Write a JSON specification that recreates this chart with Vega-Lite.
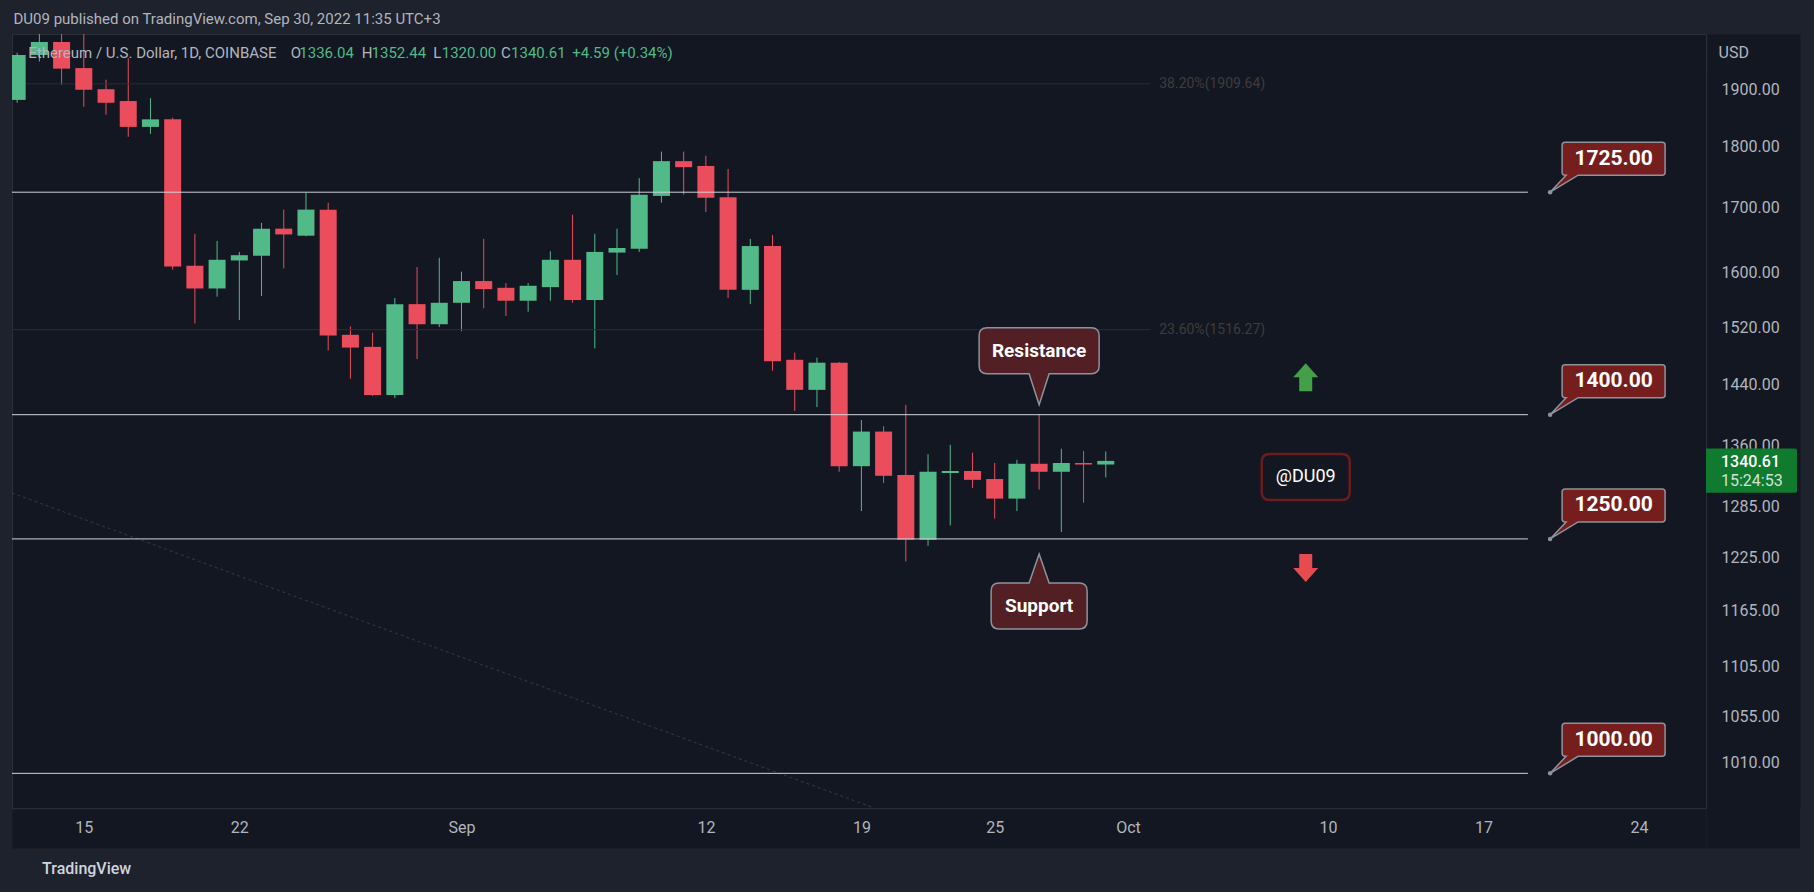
{
  "$schema": "https://vega.github.io/schema/vega-lite/v6.json",
  "width": 1694,
  "height": 774,
  "autosize": {"type": "none"},
  "padding": {"left": 12, "top": 34, "right": 108, "bottom": 84},
  "background": "#1e222d",
  "config": {
    "font": "Roboto",
    "view": {"fill": "#131722", "stroke": "#2a2e39", "strokeWidth": 1},
    "axis": {"grid": false}
  },
  "title": {
    "text": "DU09 published on TradingView.com, Sep 30, 2022 11:35 UTC+3",
    "anchor": "start",
    "frame": "group",
    "offset": 7,
    "dx": 1.5,
    "fontSize": 15,
    "fontWeight": "normal",
    "color": "#b2b5be"
  },
  "datasets": {
    "candles": [
      {"date": "2022-08-12", "open": 1881, "high": 1966, "low": 1876, "close": 1962},
      {"date": "2022-08-13", "open": 1962, "high": 2020, "low": 1950, "close": 1986},
      {"date": "2022-08-14", "open": 1986, "high": 2030, "low": 1908, "close": 1937},
      {"date": "2022-08-15", "open": 1938, "high": 2010, "low": 1869, "close": 1899},
      {"date": "2022-08-16", "open": 1900, "high": 1917, "low": 1855, "close": 1876},
      {"date": "2022-08-17", "open": 1879, "high": 1956, "low": 1817, "close": 1834},
      {"date": "2022-08-18", "open": 1834, "high": 1884, "low": 1822, "close": 1847},
      {"date": "2022-08-19", "open": 1847, "high": 1850, "low": 1604, "close": 1609},
      {"date": "2022-08-20", "open": 1610, "high": 1659, "low": 1525, "close": 1576},
      {"date": "2022-08-21", "open": 1576, "high": 1648, "low": 1564, "close": 1619},
      {"date": "2022-08-22", "open": 1618, "high": 1631, "low": 1530, "close": 1626},
      {"date": "2022-08-23", "open": 1625, "high": 1676, "low": 1565, "close": 1667},
      {"date": "2022-08-24", "open": 1667, "high": 1697, "low": 1606, "close": 1658},
      {"date": "2022-08-25", "open": 1656, "high": 1724, "low": 1655, "close": 1697},
      {"date": "2022-08-26", "open": 1697, "high": 1708, "low": 1487, "close": 1508},
      {"date": "2022-08-27", "open": 1509, "high": 1521, "low": 1448, "close": 1491},
      {"date": "2022-08-28", "open": 1492, "high": 1512, "low": 1425, "close": 1426},
      {"date": "2022-08-29", "open": 1426, "high": 1562, "low": 1422, "close": 1553},
      {"date": "2022-08-30", "open": 1553, "high": 1608, "low": 1475, "close": 1524},
      {"date": "2022-08-31", "open": 1524, "high": 1622, "low": 1520, "close": 1555},
      {"date": "2022-09-01", "open": 1555, "high": 1601, "low": 1514, "close": 1587},
      {"date": "2022-09-02", "open": 1587, "high": 1651, "low": 1547, "close": 1575},
      {"date": "2022-09-03", "open": 1577, "high": 1584, "low": 1536, "close": 1558},
      {"date": "2022-09-04", "open": 1558, "high": 1584, "low": 1542, "close": 1580},
      {"date": "2022-09-05", "open": 1578, "high": 1632, "low": 1558, "close": 1619},
      {"date": "2022-09-06", "open": 1619, "high": 1689, "low": 1555, "close": 1559},
      {"date": "2022-09-07", "open": 1559, "high": 1659, "low": 1490, "close": 1631},
      {"date": "2022-09-08", "open": 1630, "high": 1667, "low": 1596, "close": 1637},
      {"date": "2022-09-09", "open": 1636, "high": 1748, "low": 1631, "close": 1721},
      {"date": "2022-09-10", "open": 1719, "high": 1792, "low": 1708, "close": 1776},
      {"date": "2022-09-11", "open": 1776, "high": 1792, "low": 1721, "close": 1766},
      {"date": "2022-09-12", "open": 1768, "high": 1785, "low": 1693, "close": 1716},
      {"date": "2022-09-13", "open": 1717, "high": 1763, "low": 1562, "close": 1574},
      {"date": "2022-09-14", "open": 1574, "high": 1651, "low": 1553, "close": 1640},
      {"date": "2022-09-15", "open": 1640, "high": 1657, "low": 1459, "close": 1472},
      {"date": "2022-09-16", "open": 1474, "high": 1484, "low": 1405, "close": 1433},
      {"date": "2022-09-17", "open": 1433, "high": 1477, "low": 1410, "close": 1470},
      {"date": "2022-09-18", "open": 1470, "high": 1471, "low": 1327, "close": 1334},
      {"date": "2022-09-19", "open": 1334, "high": 1393, "low": 1279, "close": 1378},
      {"date": "2022-09-20", "open": 1378, "high": 1385, "low": 1313, "close": 1322},
      {"date": "2022-09-21", "open": 1323, "high": 1413, "low": 1220, "close": 1245},
      {"date": "2022-09-22", "open": 1245, "high": 1349, "low": 1238, "close": 1327},
      {"date": "2022-09-23", "open": 1325.5, "high": 1361, "low": 1262, "close": 1328},
      {"date": "2022-09-24", "open": 1328, "high": 1351, "low": 1307, "close": 1317},
      {"date": "2022-09-25", "open": 1318, "high": 1338, "low": 1270, "close": 1294},
      {"date": "2022-09-26", "open": 1294, "high": 1342, "low": 1279, "close": 1337},
      {"date": "2022-09-27", "open": 1337, "high": 1401, "low": 1305, "close": 1327},
      {"date": "2022-09-28", "open": 1327, "high": 1356, "low": 1254, "close": 1338},
      {"date": "2022-09-29", "open": 1338, "high": 1353, "low": 1289, "close": 1336.04},
      {"date": "2022-09-30", "open": 1336.04, "high": 1352.44, "low": 1320.0, "close": 1340.61}
    ],
    "levels": [
      {"pos": 1725, "label": "1725.00", "start": "2022-08-01", "end": "2022-10-19", "tag": "2022-10-20"},
      {"pos": 1400, "label": "1400.00", "start": "2022-08-01", "end": "2022-10-19", "tag": "2022-10-20"},
      {"pos": 1246, "label": "1250.00", "start": "2022-08-01", "end": "2022-10-19", "tag": "2022-10-20"},
      {"pos": 1000, "label": "1000.00", "start": "2022-08-01", "end": "2022-10-19", "tag": "2022-10-20"}
    ],
    "fib": [
      {"price": 1909.64, "label": "38.20%(1909.64)", "start": "2022-08-01", "end": "2022-10-02"},
      {"price": 1516.27, "label": "23.60%(1516.27)", "start": "2022-08-01", "end": "2022-10-02"}
    ],
    "trend": [
      {"date": "2022-08-11", "price": 1308.5},
      {"date": "2022-09-21", "price": 957.6}
    ],
    "notes": [
      {"date": "2022-09-27", "price": 1413, "label": "Resistance"},
      {"date": "2022-09-27", "price": 1228.5, "label": "Support"}
    ],
    "signs": [
      {"date": "2022-10-09", "price": 1450, "kind": "up"},
      {"date": "2022-10-09", "price": 1212.5, "kind": "down"},
      {"date": "2022-10-09", "price": 1320.6, "kind": "handle", "label": "@DU09"}
    ],
    "header": [
      {"date": "2022-08-12T12:00:00Z", "price": 1965, "text": "Ethereum / U.S. Dollar, 1D, COINBASE", "kind": "label"},
      {"date": "2022-08-24T07:28:00Z", "price": 1965, "text": "O", "kind": "label"},
      {"date": "2022-08-24T16:48:00Z", "price": 1965, "text": "1336.04", "kind": "value"},
      {"date": "2022-08-27T12:09:00Z", "price": 1965, "text": "H", "kind": "label"},
      {"date": "2022-08-27T22:52:00Z", "price": 1965, "text": "1352.44", "kind": "value"},
      {"date": "2022-08-30T17:27:00Z", "price": 1965, "text": "L", "kind": "label"},
      {"date": "2022-08-31T02:41:00Z", "price": 1965, "text": "1320.00", "kind": "value"},
      {"date": "2022-09-02T18:47:00Z", "price": 1965, "text": "C", "kind": "label"},
      {"date": "2022-09-03T05:31:00Z", "price": 1965, "text": "1340.61", "kind": "value"},
      {"date": "2022-09-05T23:34:00Z", "price": 1965, "text": "+4.59 (+0.34%)", "kind": "value"}
    ]
  },
  "resolve": {"scale": {"x": "shared", "y": "shared"}, "axis": {"x": "independent", "y": "independent"}},
  "layer": [
    {
      "data": {"values": []},
      "mark": {"type": "rule"},
      "encoding": {
        "x": {
          "field": "d",
          "type": "temporal",
          "scale": {
            "type": "utc",
            "domain": [
              {"year": 2022, "month": 8, "date": 11, "hours": 23, "minutes": 50, "utc": true},
              {"year": 2022, "month": 10, "date": 26, "hours": 19, "utc": true}
            ]
          },
          "axis": {
            "orient": "bottom",
            "labels": false,
            "ticks": false,
            "title": null,
            "offset": 20.5,
            "domainWidth": 39,
            "domainColor": "#131722",
            "zindex": 0
          }
        },
        "y": {
          "field": "v",
          "type": "quantitative",
          "scale": {"type": "log", "domain": [968, 2001], "nice": false, "zero": false},
          "axis": {
            "orient": "right",
            "labels": false,
            "ticks": false,
            "title": null,
            "offset": 47.5,
            "domainWidth": 93,
            "domainColor": "#131722",
            "zindex": 0
          }
        }
      }
    },
    {
      "data": {"values": []},
      "mark": {"type": "rule"},
      "encoding": {
        "y": {
          "field": "v",
          "type": "quantitative",
          "axis": {
            "orient": "right",
            "labels": false,
            "ticks": false,
            "title": null,
            "offset": 7,
            "translate": 40.5,
            "domainWidth": 93,
            "domainColor": "#131722",
            "zindex": 0
          }
        }
      }
    },
    {
      "layer": [
        {
          "data": {"name": "candles"},
          "mark": {"type": "rule", "clip": true, "strokeWidth": 1},
          "encoding": {
            "x": {
              "field": "date",
              "type": "temporal",
              "scale": {
                "type": "utc",
                "domain": [
                  {"year": 2022, "month": 8, "date": 11, "hours": 23, "minutes": 50, "utc": true},
                  {"year": 2022, "month": 10, "date": 26, "hours": 19, "utc": true}
                ]
              },
              "axis": {
                "orient": "bottom",
                "zindex": 1,
                "values": [
                  {"year": 2022, "month": 8, "date": 15, "utc": true},
                  {"year": 2022, "month": 8, "date": 22, "utc": true},
                  {"year": 2022, "month": 9, "date": 1, "utc": true},
                  {"year": 2022, "month": 9, "date": 12, "utc": true},
                  {"year": 2022, "month": 9, "date": 19, "utc": true},
                  {"year": 2022, "month": 9, "date": 25, "utc": true},
                  {"year": 2022, "month": 10, "date": 1, "utc": true},
                  {"year": 2022, "month": 10, "date": 10, "utc": true},
                  {"year": 2022, "month": 10, "date": 17, "utc": true},
                  {"year": 2022, "month": 10, "date": 24, "utc": true}
                ],
                "labelExpr": "utcdate(datum.value) == 1 ? utcFormat(datum.value, '%b') : utcFormat(datum.value, '%-d')",
                "title": "TradingView",
                "domain": false,
                "ticks": false,
                "tickSize": 0,
                "labelPadding": 19,
                "labelBaseline": "middle",
                "labelFontSize": 16,
                "labelColor": "#b2b5be",
                "labelFlush": false,
                "labelOverlap": false,
                "labelAngle": 0,
                "titleX": 29.6,
                "titleY": 60,
                "titleAlign": "left",
                "titleBaseline": "middle",
                "titleFontSize": 16,
                "titleFontWeight": 500,
                "titleColor": "#d1d4dc"
              }
            },
            "y": {
              "field": "low",
              "type": "quantitative",
              "scale": {"type": "log", "domain": [968, 2001], "nice": false, "zero": false},
              "axis": {
                "orient": "right",
                "zindex": 0,
                "values": [1010, 1055, 1105, 1165, 1225, 1285, 1360, 1440, 1520, 1600, 1700, 1800, 1900],
                "format": ".2f",
                "title": "USD",
                "domain": false,
                "ticks": false,
                "tickSize": 0,
                "labelAlign": "left",
                "labelPadding": 15,
                "labelBaseline": "middle",
                "labelFontSize": 16,
                "labelColor": "#b2b5be",
                "labelOverlap": false,
                "labelFlush": false,
                "titleAngle": 0,
                "titleX": 12,
                "titleY": 18,
                "titleAlign": "left",
                "titleBaseline": "middle",
                "titleFontSize": 16,
                "titleFontWeight": "normal",
                "titleColor": "#b2b5be"
              }
            },
            "y2": {"field": "high"},
            "color": {"condition": {"test": "datum.close >= datum.open", "value": "#52b988"}, "value": "#eb4d5c"}
          }
        },
        {
          "data": {"name": "fib"},
          "mark": {"type": "rule", "clip": true, "color": "#2e2c2d", "strokeWidth": 1},
          "encoding": {
            "x": {"field": "start", "type": "temporal"},
            "x2": {"field": "end"},
            "y": {"field": "price", "type": "quantitative"}
          }
        },
        {
          "data": {"name": "fib"},
          "mark": {"type": "text", "align": "left", "baseline": "middle", "dx": 9, "fontSize": 14, "fill": "#3f3c3a"},
          "encoding": {
            "x": {"field": "end", "type": "temporal"},
            "y": {"field": "price", "type": "quantitative"},
            "text": {"field": "label"}
          }
        },
        {
          "data": {"name": "trend"},
          "mark": {"type": "line", "clip": true, "color": "#363a45", "strokeWidth": 1, "strokeDash": [3, 3]},
          "encoding": {
            "x": {"field": "date", "type": "temporal"},
            "y": {"field": "price", "type": "quantitative"}
          }
        },
        {
          "data": {"name": "candles"},
          "mark": {"type": "bar", "clip": true, "width": 17},
          "encoding": {
            "x": {"field": "date", "type": "temporal"},
            "y": {"field": "open", "type": "quantitative"},
            "y2": {"field": "close"},
            "color": {"condition": {"test": "datum.close >= datum.open", "value": "#52b988"}, "value": "#eb4d5c"}
          }
        },
        {
          "data": {"name": "levels"},
          "mark": {"type": "rule", "clip": true, "color": "#d1d4dc", "strokeWidth": 1},
          "encoding": {
            "x": {"field": "start", "type": "temporal"},
            "x2": {"field": "end"},
            "y": {"field": "pos", "type": "quantitative"}
          }
        },
        {
          "data": {"name": "levels"},
          "mark": {
            "type": "point",
            "shape": "M0,0 L16,-17 L15,-17 Q12,-17 12,-20 L12,-47 Q12,-50 15,-50 L112,-50 Q115,-50 115,-47 L115,-20 Q115,-17 112,-17 L28,-17 Z",
            "size": 4,
            "filled": true,
            "fill": "#761d1e",
            "stroke": "#8f929b",
            "strokeWidth": 1.5,
            "opacity": 1
          },
          "encoding": {
            "x": {"field": "tag", "type": "temporal"},
            "y": {"field": "pos", "type": "quantitative"}
          }
        },
        {
          "data": {"name": "levels"},
          "mark": {"type": "point", "shape": "circle", "size": 20, "filled": true, "fill": "#8f929b", "opacity": 1},
          "encoding": {
            "x": {"field": "tag", "type": "temporal"},
            "y": {"field": "pos", "type": "quantitative"}
          }
        },
        {
          "data": {"name": "levels"},
          "mark": {"type": "text", "align": "center", "baseline": "middle", "dx": 63.5, "dy": -33.5, "fontSize": 21, "fontWeight": "bold", "fill": "#ffffff"},
          "encoding": {
            "x": {"field": "tag", "type": "temporal"},
            "y": {"field": "pos", "type": "quantitative"},
            "text": {"field": "label"}
          }
        },
        {
          "data": {"name": "notes"},
          "transform": [{"filter": "datum.label == 'Resistance'"}],
          "mark": {
            "type": "point",
            "shape": "M0,0 L-10,-31 L-52,-31 Q-60,-31 -60,-39 L-60,-69 Q-60,-77 -52,-77 L52,-77 Q60,-77 60,-69 L60,-39 Q60,-31 52,-31 L10,-31 Z",
            "size": 4,
            "filled": true,
            "fill": "#521f24",
            "stroke": "#8f929b",
            "strokeWidth": 1.5,
            "opacity": 1
          },
          "encoding": {
            "x": {"field": "date", "type": "temporal"},
            "y": {"field": "price", "type": "quantitative"}
          }
        },
        {
          "data": {"name": "notes"},
          "transform": [{"filter": "datum.label == 'Resistance'"}],
          "mark": {"type": "text", "align": "center", "baseline": "middle", "dy": -54, "fontSize": 19, "fontWeight": "bold", "fill": "#ffffff"},
          "encoding": {
            "x": {"field": "date", "type": "temporal"},
            "y": {"field": "price", "type": "quantitative"},
            "text": {"field": "label"}
          }
        },
        {
          "data": {"name": "notes"},
          "transform": [{"filter": "datum.label == 'Support'"}],
          "mark": {
            "type": "point",
            "shape": "M0,0 L10,29 L40,29 Q48,29 48,37 L48,67 Q48,75 40,75 L-40,75 Q-48,75 -48,67 L-48,37 Q-48,29 -40,29 L-10,29 Z",
            "size": 4,
            "filled": true,
            "fill": "#521f24",
            "stroke": "#8f929b",
            "strokeWidth": 1.5,
            "opacity": 1
          },
          "encoding": {
            "x": {"field": "date", "type": "temporal"},
            "y": {"field": "price", "type": "quantitative"}
          }
        },
        {
          "data": {"name": "notes"},
          "transform": [{"filter": "datum.label == 'Support'"}],
          "mark": {"type": "text", "align": "center", "baseline": "middle", "dy": 52, "fontSize": 19, "fontWeight": "bold", "fill": "#ffffff"},
          "encoding": {
            "x": {"field": "date", "type": "temporal"},
            "y": {"field": "price", "type": "quantitative"},
            "text": {"field": "label"}
          }
        },
        {
          "data": {"name": "signs"},
          "transform": [{"filter": "datum.kind == 'handle'"}],
          "mark": {
            "type": "point",
            "shape": "M-36,-23 L36,-23 Q44,-23 44,-15 L44,15 Q44,23 36,23 L-36,23 Q-44,23 -44,15 L-44,-15 Q-44,-23 -36,-23 Z",
            "size": 4,
            "filled": false,
            "stroke": "#6d1c1e",
            "strokeWidth": 2.5,
            "opacity": 1
          },
          "encoding": {
            "x": {"field": "date", "type": "temporal"},
            "y": {"field": "price", "type": "quantitative"}
          }
        },
        {
          "data": {"name": "signs"},
          "transform": [{"filter": "datum.kind == 'handle'"}],
          "mark": {"type": "text", "align": "center", "baseline": "middle", "fontSize": 18, "fill": "#ffffff"},
          "encoding": {
            "x": {"field": "date", "type": "temporal"},
            "y": {"field": "price", "type": "quantitative"},
            "text": {"field": "label"}
          }
        },
        {
          "data": {"name": "signs"},
          "transform": [{"filter": "datum.kind == 'up'"}],
          "mark": {
            "type": "point",
            "shape": "M0,-14 L12.5,0 L6.5,0 L6.5,14 L-6.5,14 L-6.5,0 L-12.5,0 Z",
            "size": 4,
            "filled": true,
            "fill": "#43a047",
            "strokeWidth": 0,
            "opacity": 1
          },
          "encoding": {
            "x": {"field": "date", "type": "temporal"},
            "y": {"field": "price", "type": "quantitative"}
          }
        },
        {
          "data": {"name": "signs"},
          "transform": [{"filter": "datum.kind == 'down'"}],
          "mark": {
            "type": "point",
            "shape": "M0,14 L12.5,0 L6.5,0 L6.5,-14 L-6.5,-14 L-6.5,0 L-12.5,0 Z",
            "size": 4,
            "filled": true,
            "fill": "#e84b4f",
            "strokeWidth": 0,
            "opacity": 1
          },
          "encoding": {
            "x": {"field": "date", "type": "temporal"},
            "y": {"field": "price", "type": "quantitative"}
          }
        },
        {
          "data": {"name": "header"},
          "mark": {"type": "text", "align": "left", "baseline": "middle", "fontSize": 15},
          "encoding": {
            "x": {"field": "date", "type": "temporal"},
            "y": {"field": "price", "type": "quantitative"},
            "text": {"field": "text"},
            "color": {
              "field": "kind",
              "type": "nominal",
              "scale": {"domain": ["label", "value"], "range": ["#b2b5be", "#52b988"]},
              "legend": null
            }
          }
        },
        {
          "data": {"name": "candles"},
          "transform": [{"filter": {"field": "date", "equal": {"year": 2022, "month": 9, "date": 30, "utc": true}}}],
          "mark": {
            "type": "point",
            "shape": "M0,-12.5 L89,-12.5 Q91,-12.5 91,-10.5 L91,29.8 Q91,31.8 89,31.8 L0,31.8 Z",
            "size": 4,
            "filled": true,
            "fill": "#107a2e",
            "strokeWidth": 0,
            "opacity": 1
          },
          "encoding": {
            "x": {"value": "width"},
            "y": {"field": "close", "type": "quantitative"}
          }
        },
        {
          "data": {"name": "candles"},
          "transform": [{"filter": {"field": "date", "equal": {"year": 2022, "month": 9, "date": 30, "utc": true}}}],
          "mark": {"type": "text", "align": "left", "baseline": "middle", "dx": 15, "dy": 1, "fontSize": 16, "fontWeight": 500, "fill": "#ffffff"},
          "encoding": {
            "x": {"value": "width"},
            "y": {"field": "close", "type": "quantitative"},
            "text": {"field": "close", "type": "quantitative", "format": ".2f"}
          }
        },
        {
          "data": {"name": "candles"},
          "transform": [{"filter": {"field": "date", "equal": {"year": 2022, "month": 9, "date": 30, "utc": true}}}],
          "mark": {"type": "text", "align": "left", "baseline": "middle", "dx": 15, "dy": 20, "fontSize": 16, "fill": "#d0e4d3", "text": "15:24:53"},
          "encoding": {
            "x": {"value": "width"},
            "y": {"field": "close", "type": "quantitative"}
          }
        }
      ]
    }
  ]
}
